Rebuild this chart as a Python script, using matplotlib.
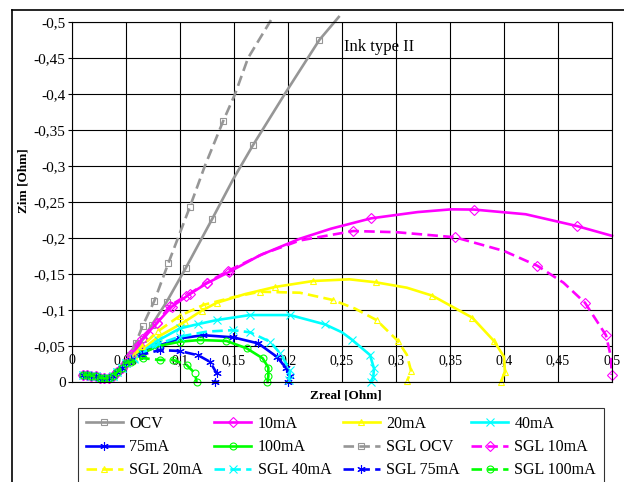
import matplotlib
matplotlib.use("Agg")
import matplotlib.pyplot as plt
from matplotlib.lines import Line2D
from matplotlib.ticker import MultipleLocator, FuncFormatter

plt.rcParams['font.family'] = ['Liberation Serif', 'DejaVu Serif']

# common start (high frequency cluster)
start_x = [0.010, 0.014, 0.018, 0.022, 0.026, 0.030, 0.034, 0.038, 0.042, 0.046, 0.050]
start_y = [-0.010, -0.010, -0.009, -0.008, -0.006, -0.005, -0.006, -0.009, -0.014, -0.020, -0.027]

ocv_x = start_x + [0.055, 0.060, 0.066, 0.0738, 0.0877, 0.1056, 0.130, 0.149, 0.1676, 0.197, 0.229, 0.247]
ocv_y = start_y + [-0.036, -0.046, -0.060, -0.079, -0.1115, -0.159, -0.227, -0.281, -0.329, -0.400, -0.475, -0.507]

ma10_x = start_x + [0.0553, 0.060, 0.065, 0.0784, 0.0923, 0.109, 0.1247, 0.1457, 0.174, 0.211, 0.240,
                    0.2769, 0.320, 0.351, 0.3722, 0.420, 0.4673, 0.500]
ma10_y = start_y + [-0.040, -0.050, -0.060, -0.0815, -0.1046, -0.122, -0.137, -0.153, -0.176, -0.199, -0.213,
                    -0.2273, -0.236, -0.2398, -0.2395, -0.233, -0.2167, -0.203]

ma20_x = start_x + [0.057, 0.065, 0.080, 0.1046, 0.120, 0.134, 0.160, 0.188, 0.2234, 0.257, 0.2812,
                    0.310, 0.3336, 0.3707, 0.3907, 0.400, 0.4009, 0.3972]
ma20_y = start_y + [-0.035, -0.045, -0.063, -0.084, -0.099, -0.110, -0.122, -0.132, -0.1403, -0.1426, -0.1385,
                    -0.131, -0.1199, -0.0893, -0.057, -0.035, -0.0143, -0.0004]

ma40_x = start_x + [0.057, 0.065, 0.080, 0.100, 0.117, 0.134, 0.1648, 0.2019, 0.2343, 0.250, 0.259,
                    0.2759, 0.2796, 0.279, 0.2766]
ma40_y = start_y + [-0.033, -0.042, -0.058, -0.0745, -0.0805, -0.086, -0.093, -0.093, -0.080, -0.069, -0.059,
                    -0.0375, -0.019, -0.0074, 0.0]

ma75_x = start_x + [0.055, 0.065, 0.0815, 0.100, 0.1216, 0.1494, 0.1725, 0.1895, 0.198, 0.2019, 0.200]
ma75_y = start_y + [-0.032, -0.041, -0.051, -0.0606, -0.065, -0.062, -0.0536, -0.0352, -0.020, -0.008, 0.0]

ma100_x = start_x + [0.055, 0.065, 0.080, 0.100, 0.1185, 0.143, 0.1617, 0.1765, 0.1818, 0.1818, 0.181]
ma100_y = start_y + [-0.031, -0.040, -0.050, -0.056, -0.0583, -0.057, -0.0468, -0.033, -0.020, -0.008, 0.0]

sgl_ocv_x = start_x + [0.054, 0.059, 0.0654, 0.0762, 0.0892, 0.109, 0.123, 0.140, 0.151, 0.163, 0.186]
sgl_ocv_y = start_y + [-0.038, -0.054, -0.078, -0.1125, -0.165, -0.2426, -0.300, -0.3625, -0.400, -0.450, -0.507]

sgl10_x = start_x + [0.055, 0.062, 0.070, 0.0784, 0.0907, 0.106, 0.125, 0.1448, 0.177, 0.211, 0.2605,
                     0.301, 0.3546, 0.400, 0.4308, 0.455, 0.475, 0.4944, 0.499, 0.4997]
sgl10_y = start_y + [-0.037, -0.052, -0.067, -0.0815, -0.106, -0.120, -0.138, -0.1546, -0.178, -0.1966, -0.2097,
                     -0.208, -0.201, -0.182, -0.1615, -0.138, -0.110, -0.065, -0.035, -0.0097]

sgl20_x = start_x + [0.057, 0.065, 0.080, 0.100, 0.1216, 0.150, 0.174, 0.211, 0.2413, 0.262, 0.282,
                     0.3015, 0.310, 0.3139, 0.3105]
sgl20_y = start_y + [-0.037, -0.050, -0.071, -0.092, -0.107, -0.118, -0.1254, -0.124, -0.114, -0.102, -0.086,
                     -0.0574, -0.038, -0.0157, -0.0018]

sgl40_x = start_x + [0.057, 0.065, 0.080, 0.100, 0.125, 0.149, 0.1648, 0.1833, 0.1926, 0.2019, 0.201]
sgl40_y = start_y + [-0.032, -0.040, -0.053, -0.063, -0.070, -0.072, -0.069, -0.056, -0.040, -0.0167, -0.003]

sgl75_x = start_x + [0.055, 0.065, 0.0815, 0.100, 0.117, 0.1278, 0.134, 0.1324]
sgl75_y = start_y + [-0.031, -0.038, -0.0444, -0.043, -0.037, -0.028, -0.012, 0.0]

sgl100_x = start_x + [0.055, 0.066, 0.0815, 0.0938, 0.1062, 0.1139, 0.1154]
sgl100_y = start_y + [-0.028, -0.033, -0.0306, -0.0306, -0.0236, -0.012, 0.0]

gray, mag, yel, cya, blu, gre = '#969696', '#ff00ff', '#ffff00', '#00ffff', '#0000ff', '#00ff00'
star = (6, 2, 0)

# label, x, y, colour, marker, dashed, marker indices (None = every point)
series = [
    ("OCV", ocv_x, ocv_y, gray, 's', False, list(range(18)) + [19, 21]),
    ("10mA", ma10_x, ma10_y, mag, 'D', False, list(range(19)) + [22, 25, 27]),
    ("20mA", ma20_x, ma20_y, yel, '^', False, list(range(17)) + [18, 19, 21, 23, 24, 25, 27, 28]),
    ("40mA", ma40_x, ma40_y, cya, 'x', False, list(range(20)) + [21, 22, 23, 24, 25]),
    ("75mA", ma75_x, ma75_y, blu, star, False, None),
    ("100mA", ma100_x, ma100_y, gre, 'o', False, None),
    ("SGL OCV", sgl_ocv_x, sgl_ocv_y, gray, 's', True, list(range(17)) + [18]),
    ("SGL 10mA", sgl10_x, sgl10_y, mag, 'D', True, list(range(19)) + [21, 23, 25, 27, 28, 30]),
    ("SGL 20mA", sgl20_x, sgl20_y, yel, '^', True, list(range(16)) + [17, 19, 21, 22, 24, 25]),
    ("SGL 40mA", sgl40_x, sgl40_y, cya, 'x', True, list(range(15)) + [16, 17, 18, 19, 20, 21]),
    ("SGL 75mA", sgl75_x, sgl75_y, blu, star, True, None),
    ("SGL 100mA", sgl100_x, sgl100_y, gre, 'o', True, None),
]

fig = plt.figure(figsize=(6.24, 4.82), dpi=100)
ax = fig.add_axes([72 / 624, 1 - 382 / 482, 540 / 624, 360 / 482])

handles = []
for lab, xs, ys, col, mk, dashed, marks in series:
    ls = (0, (4, 2)) if dashed else '-'
    ms = 6 if mk in ('x', star) else 5
    h, = ax.plot(xs, ys, color=col, lw=1.9, ls=ls, marker=mk, ms=ms, mfc='none',
                 mec=col, mew=0.8, markevery=marks, label=lab, clip_on=False)
    handles.append(h)

ax.set_xlim(0, 0.5)
ax.set_ylim(0, -0.5)
ax.xaxis.set_major_locator(MultipleLocator(0.05))
ax.yaxis.set_major_locator(MultipleLocator(0.05))
fmt = FuncFormatter(lambda v, p: ("%g" % round(v, 3)).replace('.', ',') if abs(v) > 1e-9 else "0")
ax.xaxis.set_major_formatter(fmt)
ax.yaxis.set_major_formatter(fmt)
ax.grid(True, color='black', lw=0.8)
ax.set_axisbelow(True)
for s in ax.spines.values():
    s.set_color('black')
    s.set_linewidth(0.8)
ax.tick_params(axis='x', length=0, pad=-20, labelsize=10)
ax.tick_params(axis='y', length=3, width=0.8, pad=1.5, labelsize=11)

ax.set_xlabel("Zreal [Ohm]", fontsize=9.5, fontweight='bold')
ax.xaxis.set_label_coords(0.507, -0.02)
ax.set_ylabel("Zim [Ohm]", fontsize=9.5, fontweight='bold')
ax.yaxis.set_label_coords(-0.078, 0.56)

ax.text(0.252, -0.465, "Ink type II", fontsize=12, ha='left', va='center')

# legend is filled row-wise like the original
order = [r * 4 + c for c in range(4) for r in range(3)]
leg = fig.legend([handles[i] for i in order], [series[i][0] for i in order],
                 loc='upper left', bbox_to_anchor=(78 / 624, 1 - 408 / 482 - 0.01, 526 / 624, 0.01),
                 mode='expand', ncol=4, fontsize=11.5, frameon=True, fancybox=False,
                 edgecolor='black', borderpad=0.5, labelspacing=0.45, handlelength=2.3,
                 handletextpad=0.4, borderaxespad=0, columnspacing=0.5)
leg.get_frame().set_linewidth(0.8)

# outer chart border
fig.add_artist(Line2D([12 / 624, 12 / 624], [0, 1 - 10 / 482], transform=fig.transFigure, color='black', lw=1.2))
fig.add_artist(Line2D([12 / 624, 1], [1 - 10 / 482, 1 - 10 / 482], transform=fig.transFigure, color='black', lw=1.2))

fig.savefig("out.png", dpi=100)
